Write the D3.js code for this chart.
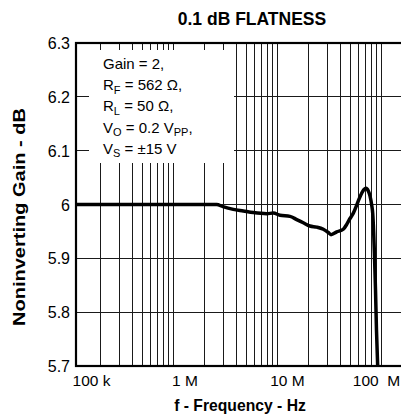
<!DOCTYPE html>
<html>
<head>
<meta charset="utf-8">
<script src="https://cdn.jsdelivr.net/npm/d3@7"></script>
<style>
  html, body { margin: 0; padding: 0; background: #fff; }
  svg { display: block; }
  text { font-family: "Liberation Sans", Arial, sans-serif; fill: #000; }
</style>
</head>
<body>
<svg id="chart" width="401" height="419"></svg>
<script>
// ---- data ----
const freqHz = [1.16e5, 2e5, 5e5, 1e6, 2e6, 2.6e6, 2.99e6, 3.76e6, 4.69e6, 5.85e6, 7.87e6, 9.12e6,
  1.057e7, 1.318e7, 1.53e7, 1.77e7, 2.05e7, 2.38e7, 2.76e7, 3.08e7, 3.27e7, 3.71e7, 4.29e7,
  4.66e7, 4.98e7, 5.36e7, 5.78e7, 6.08e7, 6.45e7, 6.79e7, 7.1e7, 7.47e7, 7.75e7, 8.05e7,
  8.23e7, 8.41e7, 8.56e7, 8.76e7, 8.95e7, 9.19e7, 9.3e7];
const gainDb = [6.0, 6.0, 6.0, 6.0, 6.0, 6.0, 5.996, 5.991, 5.988, 5.985, 5.983, 5.984,
  5.980, 5.978, 5.972, 5.966, 5.960, 5.958, 5.954, 5.948, 5.944, 5.949, 5.954,
  5.964, 5.974, 5.984, 5.999, 6.010, 6.021, 6.028, 6.030, 6.025, 6.016, 5.999,
  5.984, 5.949, 5.906, 5.841, 5.767, 5.700, 5.680];
const xDomain = [1.155e5, 1.61e8];
const yDomain = [5.7, 6.3];
const yTicks = [5.7, 5.8, 5.9, 6.0, 6.1, 6.2, 6.3];
const yTickLabels = ["5.7", "5.8", "5.9", "6", "6.1", "6.2", "6.3"];
const xTickValues = [1e5, 1e6, 1e7, 1e8];
const xTickLabels = ["100 k", "1 M", "10 M", "100  M"];
const legendLines = [
  [["Gain = 2,", false]],
  [["R", false], ["F", true], [" = 562 Ω,", false]],
  [["R", false], ["L", true], [" = 50 Ω,", false]],
  [["V", false], ["O", true], [" = 0.2 V", false], ["PP", true], [",", false]],
  [["V", false], ["S", true], [" = ±15 V", false]]
];
const titleText = "0.1 dB FLATNESS";
const xTitle = "f - Frequency - Hz";
const yTitle = "Noninverting Gain - dB";

// ---- layout ----
const L = 76, R = 403, T = 43, B = 366;
const svg = d3.select("#chart");
const x = d3.scaleLog().domain(xDomain).range([L, R]);
const y = d3.scaleLinear().domain(yDomain).range([B, T]);

svg.append("defs").append("clipPath").attr("id", "plotclip")
  .append("rect").attr("x", L).attr("y", T).attr("width", R - L).attr("height", B - T);

// grid
const grid = svg.append("g").attr("stroke", "#1a1a1a").attr("stroke-width", 1).attr("shape-rendering", "crispEdges");
const vGrid = x.ticks().filter(v => x(v) > L + 1 && x(v) < R - 1);
grid.selectAll("line.v").data(vGrid).join("line")
  .attr("x1", d => x(d)).attr("x2", d => x(d)).attr("y1", T).attr("y2", B);
grid.selectAll("line.h").data(yTicks.filter(v => v > yDomain[0] && v < yDomain[1])).join("line")
  .attr("x1", L).attr("x2", R).attr("y1", d => y(d)).attr("y2", d => y(d));

// legend box masks the grid
svg.append("rect").attr("x", 89).attr("y", 50).attr("width", 145).attr("height", 113).attr("fill", "#fff");

// frame
svg.append("rect").attr("x", L).attr("y", T).attr("width", R - L).attr("height", B - T)
  .attr("fill", "none").attr("stroke", "#000").attr("stroke-width", 2.2);

// curve
const line = d3.line().x((d, i) => x(freqHz[i])).y(d => y(d)).curve(d3.curveMonotoneX);
svg.append("path").datum(gainDb).attr("d", line)
  .attr("fill", "none").attr("stroke", "#000").attr("stroke-width", 3.5)
  .attr("stroke-linejoin", "round").attr("clip-path", "url(#plotclip)");

// y tick labels
svg.selectAll("text.yt").data(yTicks).join("text")
  .attr("x", 70).attr("y", d => y(d)).attr("dy", "0.38em")
  .attr("text-anchor", "end").attr("font-size", 16)
  .text((d, i) => yTickLabels[i]);

// x tick labels (nudged as in the reference)
const xNudge = [22, 11.5, 10, -5];
svg.selectAll("text.xt").data(xTickValues).join("text")
  .attr("x", (d, i) => x(d) + xNudge[i]).attr("y", 386)
  .attr("text-anchor", "middle").attr("font-size", 15.5)
  .style("white-space", "pre")
  .text((d, i) => xTickLabels[i]);

// legend
const lg = svg.append("g");
legendLines.forEach((parts, i) => {
  const t = lg.append("text").attr("x", 103).attr("y", 69 + i * 21.2).attr("font-size", 15).style("white-space", "pre");
  parts.forEach(([s, sub], j) => {
    const prevSub = j > 0 && parts[j - 1][1];
    const ts = t.append("tspan").text(s);
    if (sub) ts.attr("font-size", 11);
    ts.attr("dy", sub && !prevSub ? 3.5 : (!sub && prevSub ? -3.5 : 0));
  });
});

// titles
svg.append("text").attr("x", 252).attr("y", 25).attr("text-anchor", "middle")
  .attr("font-size", 17.5).attr("font-weight", "bold").text(titleText);
svg.append("text").attr("x", 240).attr("y", 411).attr("text-anchor", "middle")
  .attr("font-size", 15.7).attr("font-weight", "bold").text(xTitle);
svg.append("text").attr("transform", "translate(25,217) rotate(-90)")
  .attr("text-anchor", "middle").attr("font-size", 17).attr("font-weight", "bold")
  .attr("textLength", 218).attr("lengthAdjust", "spacingAndGlyphs")
  .text(yTitle);
</script>
</body>
</html>
